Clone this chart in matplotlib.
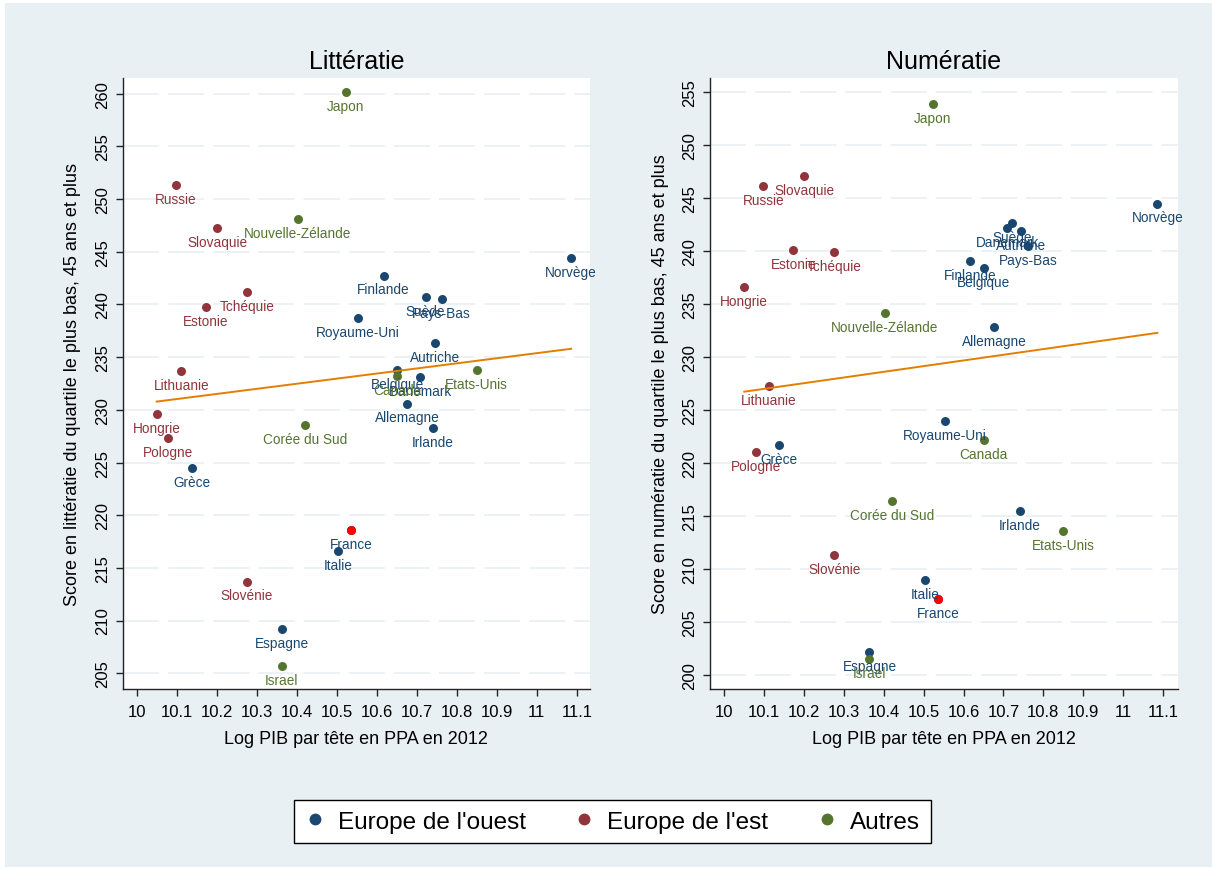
import numpy as np
import matplotlib
matplotlib.use("Agg")
import matplotlib.pyplot as plt
from matplotlib.lines import Line2D
from matplotlib.patches import Rectangle

plt.rcParams["font.family"] = ["Liberation Sans", "DejaVu Sans"]

# Europe de l'ouest
pays_ouest = ["Allemagne", "Autriche", "Belgique", "Danemark", "Espagne", "Finlande", "France",
              "Grèce", "Irlande", "Italie", "Norvège", "Pays-Bas", "Royaume-Uni", "Suède"]
pib_ouest = [10.676, 10.745, 10.651, 10.709, 10.364, 10.617, 10.536,
             10.138, 10.741, 10.504, 11.086, 10.762, 10.553, 10.722]
litt_ouest = [230.6, 236.3, 233.8, 233.1, 209.2, 242.75, 218.6,
              224.5, 228.3, 216.6, 244.4, 240.5, 238.7, 240.7]
num_ouest = [232.85, 241.9, 238.4, 242.2, 202.2, 239.1, 207.2,
             221.7, 215.45, 209.0, 244.5, 240.5, 224.0, 242.7]

# Europe de l'est
pays_est = ["Estonie", "Hongrie", "Lithuanie", "Pologne", "Russie", "Slovaquie", "Slovénie", "Tchéquie"]
pib_est = [10.173, 10.050, 10.112, 10.079, 10.098, 10.201, 10.276, 10.276]
litt_est = [239.8, 229.6, 233.7, 227.3, 251.3, 247.3, 213.7, 241.2]
num_est = [240.15, 236.65, 227.3, 221.05, 246.15, 247.1, 211.3, 239.9]

# Autres
pays_autres = ["Canada", "Corée du Sud", "Etats-Unis", "Israel", "Japon", "Nouvelle-Zélande"]
pib_autres = [10.651, 10.420, 10.850, 10.363, 10.523, 10.403]
litt_autres = [233.2, 228.6, 233.8, 205.7, 260.2, 248.1]
num_autres = [222.2, 216.4, 213.55, 201.5, 253.9, 234.15]

# droites d'ajustement (pente, ordonnée à l'origine)
ajust_litt = (4.84, 182.14)
ajust_num = (5.36, 172.87)

groupes = ["Europe de l'ouest", "Europe de l'est", "Autres"]
couleurs = ["#1A476F", "#90353B", "#55752F"]
x_ticks = np.round(np.arange(10.0, 11.15, 0.1), 1)
x_tick_labels = ["10", "10.1", "10.2", "10.3", "10.4", "10.5", "10.6",
                 "10.7", "10.8", "10.9", "11", "11.1"]

BG = "#E9F0F3"
ORANGE = "#E37E00"


def draw_panel(ax, scores, ajust, title, ylabel, xlim, ylim, yticks):
    pib_groupes = [pib_ouest, pib_est, pib_autres]
    pays_groupes = [pays_ouest, pays_est, pays_autres]
    for pays, pib, sc, col in zip(pays_groupes, pib_groupes, scores, couleurs):
        ax.scatter(pib, sc, s=42, color=col, linewidths=0, zorder=3)
        for n, x, y in zip(pays, pib, sc):
            ax.annotate(n, (x, y), xytext=(0, -5), textcoords="offset points",
                        ha="center", va="top", fontsize=9.8, color=col, zorder=4)

    # France en rouge
    i = pays_ouest.index("France")
    ax.scatter([pib_ouest[i]], [scores[0][i]], s=42, color="#FF0000", linewidths=0, zorder=3.5)

    # droite d'ajustement sur l'étendue des x
    x_all = np.concatenate([np.asarray(p) for p in pib_groupes])
    b, a = ajust
    xs = np.array([x_all.min(), x_all.max()])
    ax.plot(xs, a + b * xs, color=ORANGE, lw=1.4, zorder=5)

    ax.set_facecolor("white")
    ax.set_xlim(*xlim)
    ax.set_ylim(*ylim)
    ax.set_xticks(x_ticks)
    ax.set_xticklabels(x_tick_labels)
    ax.set_yticks(yticks)
    ax.tick_params(axis="both", direction="out", length=5, width=1, labelsize=12, color="#222222")
    ax.tick_params(axis="y", labelrotation=90, pad=4)
    ax.tick_params(axis="x", pad=6)
    for lab in ax.get_yticklabels():
        lab.set_va("center")
    ax.yaxis.grid(True, color=BG, linewidth=1.3, linestyle=(0, (20, 5)))
    ax.set_axisbelow(True)
    for s in ["top", "right"]:
        ax.spines[s].set_visible(False)
    for s in ["left", "bottom"]:
        ax.spines[s].set_color("#222222")
        ax.spines[s].set_linewidth(1)
    ax.set_title(title, fontsize=18, pad=7)
    ax.set_xlabel("Log PIB par tête en PPA en 2012", fontsize=13, labelpad=8)
    ax.set_ylabel(ylabel, fontsize=13, labelpad=10)


fig = plt.figure(figsize=(12.12, 8.7), dpi=100)
fig.patch.set_facecolor("white")
fig.patches.append(Rectangle((5 / 1212, 2 / 870), 1 - 5 / 1212, 1 - 6 / 870,
                             transform=fig.transFigure, facecolor=BG, edgecolor="none", zorder=-10))

ax1 = fig.add_axes([0.1012, 0.2069, 0.3856, 0.7023])
ax2 = fig.add_axes([0.5858, 0.2069, 0.3859, 0.7023])

draw_panel(ax1, [litt_ouest, litt_est, litt_autres], ajust_litt, "Littératie",
           "Score en littératie du quartile le plus bas, 45 ans et plus",
           (9.965, 11.133), (203.5, 261.5), np.arange(205, 261, 5))
draw_panel(ax2, [num_ouest, num_est, num_autres], ajust_num, "Numératie",
           "Score en numératie du quartile le plus bas, 45 ans et plus",
           (9.964, 11.137), (198.67, 256.35), np.arange(200, 256, 5))

handles = [Line2D([], [], marker="o", linestyle="none", markersize=8.5,
                  markerfacecolor=c, markeredgewidth=0) for c in couleurs]
leg = fig.legend(handles, groupes, loc="center", bbox_to_anchor=(0.5054, 0.0546), ncol=3,
                 fontsize=17.5, frameon=True, fancybox=False, framealpha=1, handlelength=0.8,
                 handletextpad=0.55, columnspacing=2.0, borderpad=0.45)
leg.get_frame().set_edgecolor("black")
leg.get_frame().set_linewidth(1)

fig.savefig("out.png", dpi=100)
